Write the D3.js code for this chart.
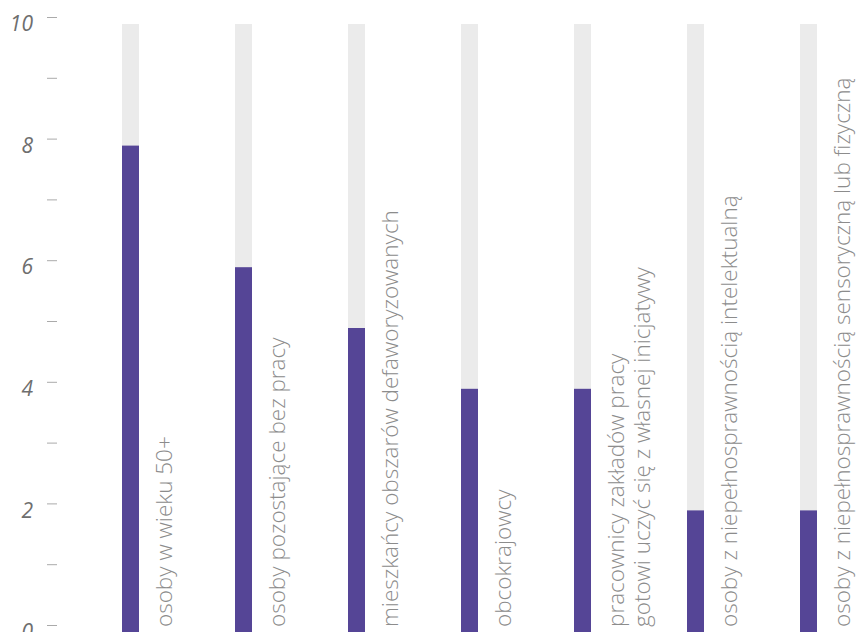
<!DOCTYPE html>
<html>
<head>
<meta charset="utf-8">
<script src="https://cdn.jsdelivr.net/npm/d3@7"></script>
<style>
  html, body { margin: 0; padding: 0; background: #fff; }
  svg { display: block; }
</style>
</head>
<body>
<svg id="chart" width="856" height="632"></svg>
<script>
const categories = [
  ["osoby w wieku 50+"],
  ["osoby pozostające bez pracy"],
  ["mieszkańcy obszarów defaworyzowanych"],
  ["obcokrajowcy"],
  ["pracownicy zakładów pracy", "gotowi uczyć się z własnej inicjatywy"],
  ["osoby z niepełnosprawnością intelektualną"],
  ["osoby z niepełnosprawnością sensoryczną lub fizyczną"]
];
const values = [8, 6, 5, 4, 4, 2, 2];
const maxValue = 10;
const tickValues = [0, 1, 2, 3, 4, 5, 6, 7, 8, 9, 10];
const tickLabels = ["0", "", "2", "", "4", "", "6", "", "8", "", "10"];

const svg = d3.select("#chart");
const FONT = "'Open Sans', 'Noto Sans', sans-serif";

const y = d3.scaleLinear().domain([0, maxValue]).range([632, 24]);
const x = d3.scalePoint().domain(d3.range(categories.length)).range([122, 800]);
const barW = 17;

// axis
const axis = d3.axisLeft(y)
  .tickValues(tickValues)
  .tickSize(10)
  .tickPadding(14)
  .tickFormat((d, i) => tickLabels[i]);
const gAxis = svg.append("g").attr("transform", "translate(57,0)").call(axis);
gAxis.select(".domain").remove();
gAxis.selectAll(".tick line").attr("stroke", "#aaaaaa").attr("transform", "translate(0,-7)");
gAxis.selectAll(".tick text")
  .attr("fill", "#6e6e6e")
  .style("font-family", FONT)
  .style("font-style", "italic")
  .style("font-weight", 400)
  .style("font-size", "21px");

// background bars
svg.append("g").selectAll("rect")
  .data(values)
  .join("rect")
  .attr("x", (d, i) => x(i))
  .attr("width", barW)
  .attr("y", y(maxValue))
  .attr("height", y(0) - y(maxValue))
  .attr("fill", "#ebebeb");

// value bars
svg.append("g").selectAll("rect")
  .data(values)
  .join("rect")
  .attr("x", (d, i) => x(i))
  .attr("width", barW)
  .attr("y", d => y(d))
  .attr("height", d => y(0) - y(d))
  .attr("fill", "#554596");

// labels
const lab = svg.append("g").selectAll("text")
  .data(categories)
  .join("text")
  .attr("transform", (d, i) => `translate(${x(i) + barW + 33},627) rotate(-90)`)
  .attr("fill", "#8c8c8c")
  .style("font-family", FONT)
  .style("font-weight", 300)
  .style("font-size", "22.5px");
lab.selectAll("tspan")
  .data(d => d)
  .join("tspan")
  .attr("x", 0)
  .attr("y", (d, j) => j * 26)
  .text(d => d);
</script>
</body>
</html>
